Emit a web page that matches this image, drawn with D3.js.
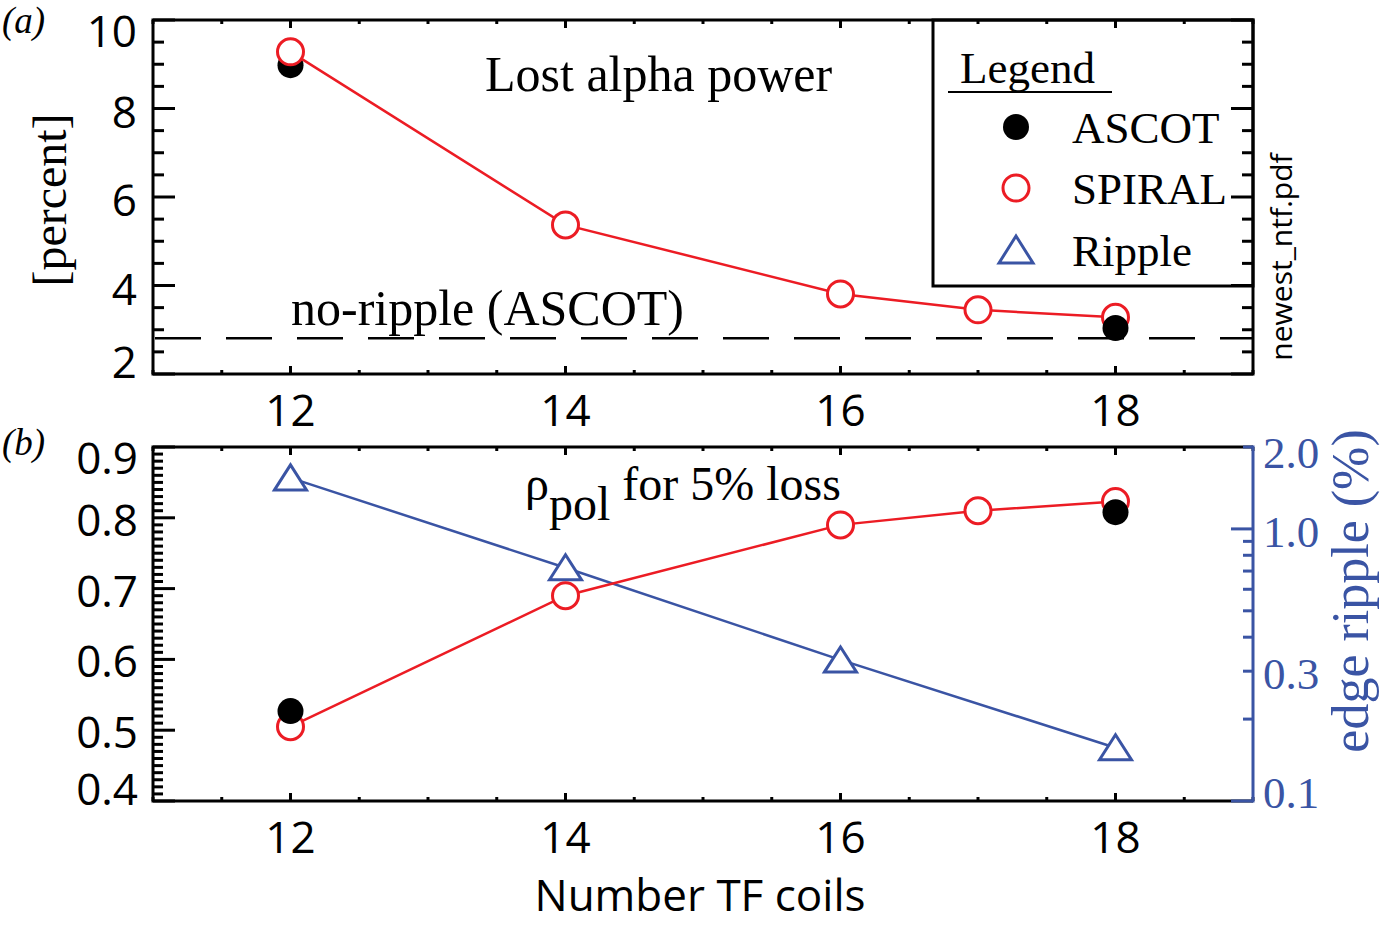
<!DOCTYPE html>
<html>
<head>
<meta charset="utf-8">
<script src="https://cdn.jsdelivr.net/npm/d3@7"></script>
<style>
  body { margin: 0; background: #fff; }
  svg { display: block; }
</style>
</head>
<body>
<svg id="chart" width="1382" height="925"></svg>
<script>
// Lost alpha power and rho_pol vs number of TF coils

const coils       = [12, 14, 16, 17, 18];
const spiralLost  = [9.28, 5.37, 3.81, 3.45, 3.28];
const ascotCoils  = [12, 18];
const ascotLost   = [8.98, 3.04];
const noRipple    = 2.81;

const spiralRho   = [0.505, 0.690, 0.790, 0.810, 0.823];
const ascotRho    = [0.527, 0.808];
const rippleCoils = [12, 14, 16, 18];
const edgeRipple  = [1.54, 0.72, 0.33, 0.157];

const xTickLabels   = [12, 14, 16, 18];
const topYLabels    = [2, 4, 6, 8, 10];
const botYLabels    = [0.4, 0.5, 0.6, 0.7, 0.8, 0.9];
const rippleLabels  = [2.0, 1.0, 0.3, 0.1];
const legendLabels  = ['ASCOT', 'SPIRAL', 'Ripple'];

const RED = '#ec1c24', BLUE = '#3a54a4';
const SERIF = '"Liberation Serif", "Times New Roman", serif';
const SANS = '"Open Sans", "Noto Sans", sans-serif';

const svg = d3.select('#chart');
const L = 153, R = 1253;
const top1 = 20, bot1 = 374;
const top2 = 447, bot2 = 801;

const x = d3.scaleLinear().domain([11, 19]).range([L, R]);
const yTop = d3.scaleLinear().domain([2, 10]).range([bot1, top1]);
const yBot = d3.scaleLinear().domain([0.4, 0.9]).range([bot2, top2]);
const yLog = d3.scaleLog().domain([0.1, 2]).range([bot2, top2]);

function txt(g, px, py, s, size, font, opts = {}) {
  const t = g.append('text')
    .attr('x', px).attr('y', py)
    .attr('font-family', font)
    .attr('font-size', size + 'px')
    .attr('fill', opts.fill || '#000')
    .attr('text-anchor', opts.anchor || 'start')
    .text(s);
  if (opts.italic) t.attr('font-style', 'italic');
  if (opts.rotate) t.attr('transform', `rotate(-90,${px},${py})`);
  return t;
}

function tick(g, x1, y1, x2, y2, color) {
  g.append('line')
    .attr('x1', x1).attr('y1', y1).attr('x2', x2).attr('y2', y2)
    .attr('stroke', color || '#000').attr('stroke-width', 3);
}

// x ticks on top and bottom of a panel
function xTicks(g, t, b) {
  d3.range(11, 19.01, 0.5).forEach(v => {
    const major = xTickLabels.includes(v);
    const len = major ? 8 : 4;
    tick(g, x(v), b, x(v), b - len);
    tick(g, x(v), t, x(v), t + len);
  });
}

const clampY = (v, t, b) => Math.max(t + 12, Math.min(b - 11, v));

// ---------------- panel (a) ----------------
const pa = svg.append('g');

// legend box first, frame ticks go over it
pa.append('rect')
  .attr('x', 933).attr('y', top1).attr('width', R - 933).attr('height', 286 - top1)
  .attr('fill', '#fff').attr('stroke', '#000').attr('stroke-width', 3);

d3.range(2, 10.01, 0.5).forEach(v => {
  const len = v % 2 === 0 ? 22 : 11;
  tick(pa, L, yTop(v), L + len, yTop(v));
  tick(pa, R, yTop(v), R - len, yTop(v));
});
xTicks(pa, top1, bot1);

pa.append('rect')
  .attr('x', L).attr('y', top1).attr('width', R - L).attr('height', bot1 - top1)
  .attr('fill', 'none').attr('stroke', '#000').attr('stroke-width', 3);

topYLabels.forEach(v => {
  txt(pa, 137, clampY(yTop(v) + 4, top1, bot1) + 15, v, 44, SANS, {anchor: 'end'});
});
xTickLabels.forEach(v => txt(pa, x(v), 426, v, 44, SANS, {anchor: 'middle'}));

txt(pa, 66, 200, '[percent]', 48, SERIF, {anchor: 'middle', rotate: true});
txt(pa, 2, 33, '(a)', 37, SERIF, {italic: true});
txt(pa, 485, 91, 'Lost alpha power', 50, SERIF);
txt(pa, 291, 325, 'no-ripple (ASCOT)', 50, SERIF);
txt(pa, 1292, 257, 'newest_ntf.pdf', 30, SANS, {anchor: 'middle', rotate: true});

pa.append('line')
  .attr('x1', L).attr('x2', R).attr('y1', yTop(noRipple)).attr('y2', yTop(noRipple))
  .attr('stroke', '#000').attr('stroke-width', 2.5)
  .attr('stroke-dasharray', '46 25').attr('stroke-dashoffset', -2);

const lineTop = d3.line().x((d, i) => x(coils[i])).y(d => yTop(d));
// ASCOT at 12 sits under the SPIRAL circle, at 18 above it
pa.append('circle').attr('cx', x(ascotCoils[0])).attr('cy', yTop(ascotLost[0])).attr('r', 13);
pa.append('path').attr('d', lineTop(spiralLost))
  .attr('fill', 'none').attr('stroke', RED).attr('stroke-width', 2.5);
pa.selectAll('.sp').data(spiralLost).join('circle')
  .attr('cx', (d, i) => x(coils[i])).attr('cy', d => yTop(d)).attr('r', 13)
  .attr('fill', '#fff').attr('stroke', RED).attr('stroke-width', 3);
pa.append('circle').attr('cx', x(ascotCoils[1])).attr('cy', yTop(ascotLost[1])).attr('r', 13);

// legend
txt(pa, 960, 83, 'Legend', 45, SERIF);
pa.append('line').attr('x1', 948).attr('x2', 1112).attr('y1', 92).attr('y2', 92)
  .attr('stroke', '#000').attr('stroke-width', 2);
const legY = [127, 188, 250];
pa.append('circle').attr('cx', 1016).attr('cy', legY[0]).attr('r', 13);
pa.append('circle').attr('cx', 1016).attr('cy', legY[1]).attr('r', 13)
  .attr('fill', '#fff').attr('stroke', RED).attr('stroke-width', 3);
pa.append('path')
  .attr('d', `M${1016 - 17},${legY[2] + 13}L1016,${legY[2] - 14}L${1016 + 17},${legY[2] + 13}Z`)
  .attr('fill', '#fff').attr('stroke', BLUE).attr('stroke-width', 3);
legendLabels.forEach((s, i) => txt(pa, 1072, legY[i] + 16, s, 45, SERIF));

// ---------------- panel (b) ----------------
const pb = svg.append('g');

d3.range(0, 51).forEach(k => {
  const v = 0.4 + k * 0.01;
  const len = k % 10 === 0 ? 22 : 10;
  tick(pb, L, yBot(v), L + len, yBot(v));
});
xTicks(pb, top2, bot2);

pb.append('path')
  .attr('d', `M${R},${top2}H${L}V${bot2}H${R}`)
  .attr('fill', 'none').attr('stroke', '#000').attr('stroke-width', 3);

// right log axis
const logTicks = [0.1, 0.2, 0.3, 0.4, 0.5, 0.6, 0.7, 0.8, 0.9, 1.0, 2.0];
logTicks.forEach(v => {
  const len = (v === 0.1 || v === 1.0) ? 22 : 10;
  tick(pb, R, yLog(v), R - len, yLog(v), BLUE);
});
pb.append('line').attr('x1', R).attr('x2', R).attr('y1', top2 - 1.5).attr('y2', bot2 + 1.5)
  .attr('stroke', BLUE).attr('stroke-width', 3);

botYLabels.forEach(v => {
  txt(pb, 138, clampY(yBot(v) + 3, top2, bot2) + 15, v.toFixed(1), 44, SANS, {anchor: 'end'});
});
rippleLabels.forEach(v => {
  const cy = Math.max(top2 + 6, Math.min(bot2 - 8, yLog(v) + 3));
  txt(pb, 1263, cy + 15, v.toFixed(1), 45, SERIF, {fill: BLUE});
});
xTickLabels.forEach(v => txt(pb, x(v), 853, v, 44, SANS, {anchor: 'middle'}));

txt(pb, 2, 455, '(b)', 37, SERIF, {italic: true});
txt(pb, 1368, 591, 'edge ripple (%)', 52, SERIF, {anchor: 'middle', rotate: true, fill: BLUE});
txt(svg, 700, 911, 'Number TF coils', 44, SANS, {anchor: 'middle'});

const rho = txt(pb, 525, 500, '', 48, SERIF);
rho.append('tspan').text('ρ');
rho.append('tspan').attr('dy', 20).text('pol');
rho.append('tspan').attr('dy', -20).text(' for 5% loss');

// ripple (blue, log)
const lineRipple = d3.line().x((d, i) => x(rippleCoils[i])).y(d => yLog(d));
pb.append('path').attr('d', lineRipple(edgeRipple))
  .attr('fill', 'none').attr('stroke', BLUE).attr('stroke-width', 2.5);
pb.selectAll('.tri').data(edgeRipple).join('path')
  .attr('d', (d, i) => {
    const cx = x(rippleCoils[i]), cy = yLog(d);
    return `M${cx - 16},${cy + 12}L${cx},${cy - 13}L${cx + 16},${cy + 12}Z`;
  })
  .attr('fill', '#fff').attr('stroke', BLUE).attr('stroke-width', 3);

// SPIRAL rho
const lineBot = d3.line().x((d, i) => x(coils[i])).y(d => yBot(d));
pb.append('path').attr('d', lineBot(spiralRho))
  .attr('fill', 'none').attr('stroke', RED).attr('stroke-width', 2.5);
pb.selectAll('.sr').data(spiralRho).join('circle')
  .attr('cx', (d, i) => x(coils[i])).attr('cy', d => yBot(d)).attr('r', 13)
  .attr('fill', '#fff').attr('stroke', RED).attr('stroke-width', 3);

// ASCOT rho
pb.selectAll('.ar').data(ascotRho).join('circle')
  .attr('cx', (d, i) => x(ascotCoils[i])).attr('cy', d => yBot(d)).attr('r', 13)
  .attr('fill', '#000');
</script>
</body>
</html>
